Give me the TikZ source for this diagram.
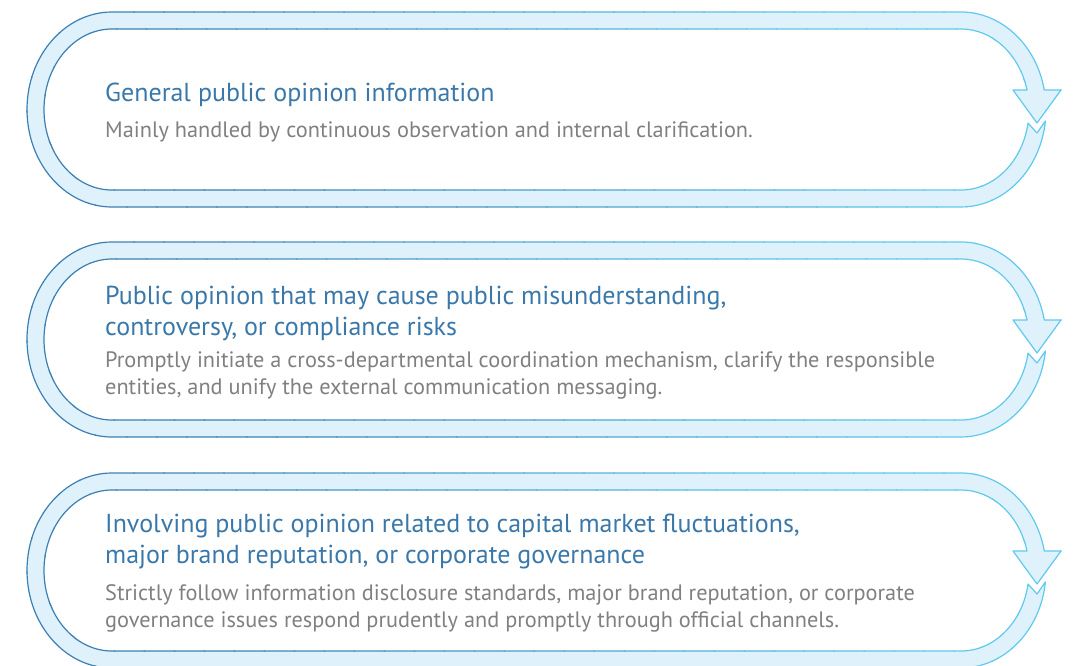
\documentclass[tikz,border=0pt]{standalone}
\usepackage{fontspec}
\setmainfont{PT Sans}

\definecolor{bandblue}{RGB}{60,127,180}
\definecolor{bandcyan}{RGB}{96,201,238}
\definecolor{bandfill}{RGB}{223,242,251}
\definecolor{headblue}{RGB}{58,120,170}
\definecolor{bodygray}{RGB}{128,128,128}

\tikzset{
  bandline/.style={line width=1.2pt, line join=round},
  head/.style={anchor=base west, inner sep=0pt, align=left, text=headblue,
    font=\fontsize{26}{31}\selectfont},
  body/.style={anchor=base west, inner sep=0pt, align=left, text=bodygray,
    font=\fontsize{22.3}{27}\selectfont}
}

% outline of one band: outer ring, arrowhead, inner ring, notch
\newcommand{\bandpath}{%
  (1045.4,-109) arc[start angle=-6.8, end angle=-90, x radius=85, y radius=97.5]
  -- (112,-195) arc[start angle=270, end angle=90, x radius=85, y radius=97.5]
  -- (961,0) arc[start angle=90, end angle=11.5, x radius=85, y radius=97.5]
  -- (1061,-78) -- (1037,-111) -- (1013,-78) -- (1027,-78)
  arc[start angle=14, end angle=90, x radius=68, y radius=80.5]
  -- (112,-17) arc[start angle=90, end angle=270, x radius=68, y radius=80.5]
  -- (961,-178) arc[start angle=-90, end angle=-9.7, x radius=68, y radius=80.5]
  -- (1037,-121) -- cycle}

% band with top edge at y = -#1; the outline goes from blue to cyan in slanted strips
\newcommand{\loopband}[1]{%
  \begin{scope}[yshift=-#1]
    \path[fill=bandfill] \bandpath;
    \foreach \i in {0,...,40}{
      \pgfmathsetmacro\xa{-140+30*\i}
      \pgfmathsetmacro\mix{max(0,min(100,(\xa+15-100)/7))}
      \begin{scope}
        \clip (\xa,5) -- ++(31,0) -- ++(150,-205) -- ++(-31,0) -- cycle;
        \path[bandline, draw=bandcyan!\mix!bandblue] \bandpath;
      \end{scope}
    }
  \end{scope}}

\begin{document}
\begin{tikzpicture}[x=1pt,y=1pt]
\useasboundingbox (0,0) rectangle (1081,-665);

\loopband{12}
\loopband{242}
\loopband{473}

\node[head] (head1) at (105,-101) {General public opinion information};
\node[body] (body1) at (105,-137) {Mainly handled by continuous observation and internal clarification.};

\node[head] (head2) at (105,-335) {Public opinion that may cause public misunderstanding,\\controversy, or compliance risks};
\node[body] (body2) at (105,-394) {Promptly initiate a cross-departmental coordination mechanism, clarify the responsible\\entities, and unify the external communication messaging.};

\node[head] (head3) at (105,-563) {Involving public opinion related to capital market fluctuations,\\major brand reputation, or corporate governance};
\node[body] (body3) at (105,-627) {Strictly follow information disclosure standards, major brand reputation, or corporate\\governance issues respond prudently and promptly through official channels.};
\end{tikzpicture}
\end{document}
